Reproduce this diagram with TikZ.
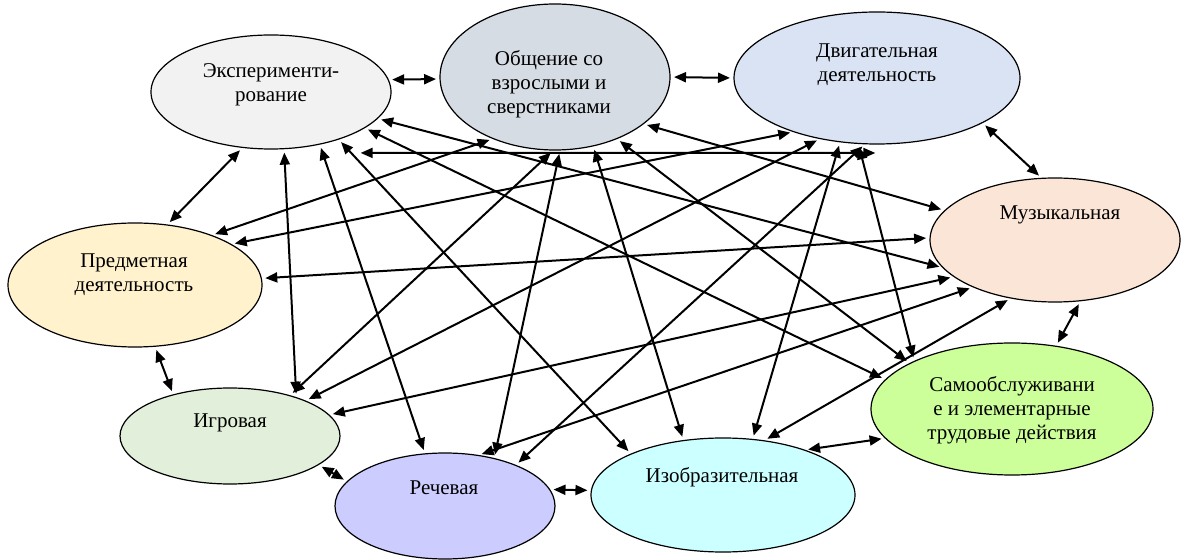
\documentclass[tikz,border=0pt]{standalone}
\usepackage{fontspec}
\setmainfont{Liberation Serif}
\usepackage[HTML]{xcolor}
\usepackage{tikz}
\usetikzlibrary{positioning, arrows.meta, shapes.geometric}

\definecolor{expcol}{HTML}{F2F2F2}
\definecolor{obscol}{HTML}{D6DCE4}
\definecolor{dvigcol}{HTML}{DAE3F3}
\definecolor{muzcol}{HTML}{FBE5D6}
\definecolor{predcol}{HTML}{FFF2CC}
\definecolor{igrcol}{HTML}{E2EFDA}
\definecolor{rechcol}{HTML}{CCCCFF}
\definecolor{izocol}{HTML}{CCFFFF}
\definecolor{samocol}{HTML}{CCFF99}

\begin{document}
\begin{tikzpicture}[x=0.5pt, y=-0.5pt,
  act/.style={draw, ellipse, line width=0.6pt, inner sep=0pt, outer sep=0pt},
  lbl/.style={align=center, font=\fontsize{10.5}{12}\selectfont},
  link/.style={{Triangle[length=6pt,width=5pt]}-{Triangle[length=6pt,width=5pt]},
    line width=1pt, shorten <=2pt, shorten >=2pt}]
\useasboundingbox (0,0) rectangle (1182,560);

% виды деятельности
\node[act, fill=expcol, minimum width=120pt, minimum height=57pt] (exp) at (271,92) {};
\node[act, fill=obscol, minimum width=115pt, minimum height=73pt] (obs) at (555,77) {};
\node[act, fill=dvigcol, minimum width=143pt, minimum height=66pt] (dvig) at (877,78) {};
\node[act, fill=muzcol, minimum width=125pt, minimum height=62pt] (muz) at (1055,240) {};
\node[act, fill=predcol, minimum width=127pt, minimum height=62pt] (pred) at (135,285) {};
\node[act, fill=igrcol, minimum width=110pt, minimum height=48pt] (igr) at (230,436) {};
\node[act, fill=rechcol, minimum width=110pt, minimum height=53pt] (rech) at (445,506) {};
\node[act, fill=izocol, minimum width=132pt, minimum height=57pt] (izo) at (723,495) {};
\node[act, fill=samocol, minimum width=141pt, minimum height=66pt] (samo) at (1012,409) {};

\node[lbl] (exp-t) at (271,85) {Эксперименти-\\рование};
\node[lbl] (obs-t) at (549,84) {Общение со\\взрослыми и\\сверстниками};
\node[lbl] (dvig-t) at (877,65) {Двигательная\\деятельность};
\node[lbl] (muz-t) at (1060,215) {Музыкальная};
\node[lbl] (pred-t) at (134,275) {Предметная\\деятельность};
\node[lbl] (igr-t) at (230,423) {Игровая};
\node[lbl] (rech-t) at (444,488) {Речевая};
\node[lbl] (izo-t) at (722,477) {Изобразительная};
\node[lbl] (samo-t) at (1012,410) {Самообслуживани\\е и элементарные\\трудовые действия};

% связи соседних
\draw[link] (exp.6) -- (obs.181);
\draw[link] (obs.0) -- (dvig.180);
\draw[link] (exp.-117) -- (pred.62);
\draw[link] (dvig.-23) -- (muz.102);
\draw[link] (pred.-72) -- (igr.144);
\draw[link] (muz.-67) -- (samo.55);
\draw[link] (igr.-18) -- (rech.166);
\draw[link] (rech.9) -- (izo.178);
\draw[link] (izo.29) -- (samo.-167);

% связи через центр
\draw[link] (exp.-77) -- (igr.30);
\draw[link] (exp.-47) -- (rech.111);
\draw[link] (exp.-35) -- (izo.156);
\draw[link] ([yshift=-10.5pt]exp.-25) -- ([yshift=-4.5pt]dvig.-88);
\draw[link] (exp.-21) -- (samo.167);
\draw[link] (exp.-14) -- (muz.-166);
\draw[link] (obs.-91) -- (igr.34);
\draw[link] (obs.-86) -- (rech.44);
\draw[link] (obs.-61) -- (izo.126);
\draw[link] (obs.-45) -- (samo.156);
\draw[link] (obs.-28) -- (muz.165);
\draw[link] (obs.-135) -- (pred.33);
\draw[link] (dvig.-147) -- (pred.23);
\draw[link] (dvig.-133) -- (igr.25);
\draw[link] (dvig.-120) -- (izo.62);
\draw[link] (dvig.-106) -- (samo.154);
\draw[link] (dvig.-100) -- (rech.30);
\draw[link] (muz.179) -- (pred.3);
\draw[link] (muz.-160) -- (igr.12);
\draw[link] (muz.-150) -- (rech.57);
\draw[link] (muz.-127) -- (izo.53);
\end{tikzpicture}
\end{document}
